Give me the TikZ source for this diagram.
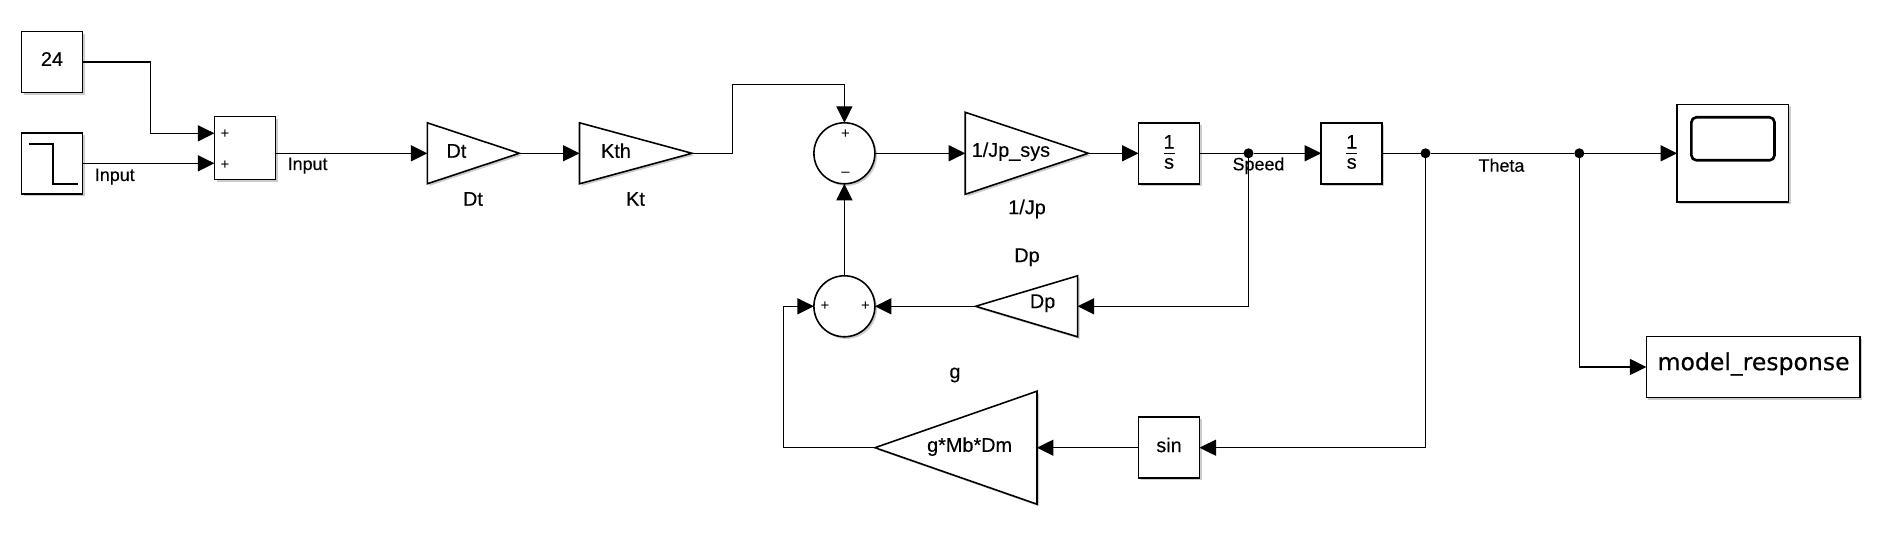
\documentclass[tikz,border=0pt]{standalone}
\usepackage{fontspec}
\setmainfont[FakeBold=0.25]{Liberation Sans}
\newfontfamily\respfont[FakeBold=0.35]{DejaVu Sans}
\newfontfamily\signfont{Liberation Sans}
\newcommand{\intfrac}{$\frac{\raisebox{1.2pt}{1}}{\rule{0pt}{8pt}\mbox{s}}$}
\usetikzlibrary{arrows.meta,shapes.geometric,shadows}
\begin{document}
\begin{tikzpicture}[x=0.02cm,y=-0.02cm,>={Triangle[length=0.33cm,width=0.32cm]},line width=0.75pt,
main node/.style={rectangle,draw,fill=white,line width=0.9pt,minimum width=1.22cm,minimum height=1.22cm,inner sep=0pt,outer sep=0pt,drop shadow={shadow xshift=1.2pt,shadow yshift=-1.2pt,fill=black!40}},
sum node/.style={main node,circle,minimum size=1.22cm},
gain node/.style={main node,isosceles triangle,isosceles triangle stretches,anchor=apex},
dot node/.style={circle,fill=black,minimum size=0.2cm,inner sep=0pt,outer sep=0pt},
text node/.style={inner sep=0pt,font=\fontsize{11.3}{13}\selectfont},
small node/.style={inner sep=0pt,font=\fontsize{10.2}{12}\selectfont},
sign node/.style={inner sep=0pt,font=\signfont\fontsize{8.5}{10}\selectfont}]
\useasboundingbox (0,0) rectangle (1884,546);
\node[main node] (const) at (52.1,62) {};
\node[main node] (stepin) at (52.1,163.3) {};
\node[main node,minimum height=1.26cm] (add) at (245,148.2) {};
\node[gain node,minimum width=1.22cm,minimum height=1.84cm] (dt) at (519.3,153.3) {};
\node[gain node,minimum width=1.22cm,minimum height=2.25cm] (kth) at (692,153.3) {};
\node[sum node] (sumtop) at (844.4,153.3) {};
\node[sum node] (sumbot) at (844.4,306.3) {};
\node[gain node,minimum width=1.64cm,minimum height=2.46cm] (jp) at (1088.2,153.3) {};
\node[main node] (intspeed) at (1169.1,153.3) {};
\node[main node] (inttheta) at (1351.7,153.3) {};
\node[main node,minimum width=2.23cm,minimum height=1.96cm] (scope) at (1732.8,153.3) {};
\node[main node,minimum width=4.27cm] (resp) at (1753.1,367) {};
\node[gain node,shape border rotate=180,minimum width=1.22cm,minimum height=2.04cm] (dp) at (975.6,306.3) {};
\node[gain node,shape border rotate=180,minimum width=2.26cm,minimum height=3.24cm] (gmd) at (875,447.7) {};
\node[main node] (sinb) at (1169,447.7) {};
\node[dot node] (jspeed) at (1248.5,153.3) {};
\node[dot node] (jtheta) at (1425.5,153.3) {};
\node[dot node] (jout) at (1579.3,153.3) {};
\coordinate (adda) at (214.4,133.3);
\coordinate (addb) at (214.4,163.3);
\draw[rounded corners=0.1cm,line width=1.5pt] (1691.4,117.3) rectangle (1774.5,160.3);
\draw[line width=1.1pt] (28.5,143.7) -- (53.3,143.7) -- (53.3,183.7) -- (77.6,183.7);
\draw[->] (const.east) -| (150.6,133.3) -- (adda);
\draw[->] (stepin.east) -- (addb);
\draw[->] (add.east |- dt.lower side) -- (dt.lower side);
\draw[->] (dt.apex) -- (kth.lower side);
\draw[->] (kth.apex) -| (732.2,84.3) -| (sumtop.north);
\draw[->] (sumtop.east) -- (jp.lower side);
\draw[->] (jp.apex) -- (intspeed.west);
\draw (intspeed.east) -- (jspeed);
\draw[->] (jspeed) -- (inttheta.west);
\draw (inttheta.east) -- (jtheta);
\draw (jtheta) -- (jout);
\draw[->] (jout) -- (scope.west);
\draw[->] (jout) |- (resp.west);
\draw[->] (jspeed) |- (dp.lower side);
\draw[->] (dp.apex) -- (sumbot.east);
\draw[->] (sumbot.north) -- (sumtop.south);
\draw[->] (jtheta) |- (sinb.east);
\draw[->] (sinb.west) -- (gmd.lower side);
\draw[->] (gmd.apex) -| (783.6,306.3) -- (sumbot.west);
\node[text node] (consttext) at (52,59) {24};
\node[small node] (stepinlabel) at (114.8,176.7) {Input};
\node[small node] (addlabel) at (307.6,165.7) {Input};
\node[text node] (dttext) at (456.4,151) {Dt};
\node[text node] (kthtext) at (616,150.7) {Kth};
\node[text node] (dtlabel) at (473,199) {Dt};
\node[text node] (ktlabel) at (635.5,199) {Kt};
\node[text node] (jptext) at (1010.9,151.7) {1/Jp\_sys};
\node[text node] (jplabel) at (1027,209) {1/Jp};
\node[text node] (dplabel) at (1027,257.3) {Dp};
\node[text node] (dptext) at (1042.6,303.3) {Dp};
\node[text node] (glabel) at (955,375) {g};
\node[text node] (gmdtext) at (969.6,446.7) {g*Mb*Dm};
\node[text node] (sintext) at (1169,445) {sin};
\node[small node] (speedlabel) at (1258.5,165.7) {Speed};
\node[small node] (thetalabel) at (1501.5,165.3) {Theta};
\node[text node] (intspeedtext) at (1169.1,152) {\intfrac};
\node[text node] (intthetatext) at (1351.7,152) {\intfrac};
\node[inner sep=0pt,font=\respfont\fontsize{13.4}{16}\selectfont] (resptext) at (1753.6,364) {model\_response};
\node[sign node] (addplusa) at (225,134.3) {+};
\node[sign node] (addplusb) at (225,164.7) {+};
\node[sign node] (sumtopplus) at (845.5,134) {+};
\node[sign node] (sumtopminus) at (845.5,174.7) {–};
\node[sign node] (sumbotplusa) at (824.9,306) {+};
\node[sign node] (sumbotplusb) at (865.4,306) {+};
\end{tikzpicture}
\end{document}
